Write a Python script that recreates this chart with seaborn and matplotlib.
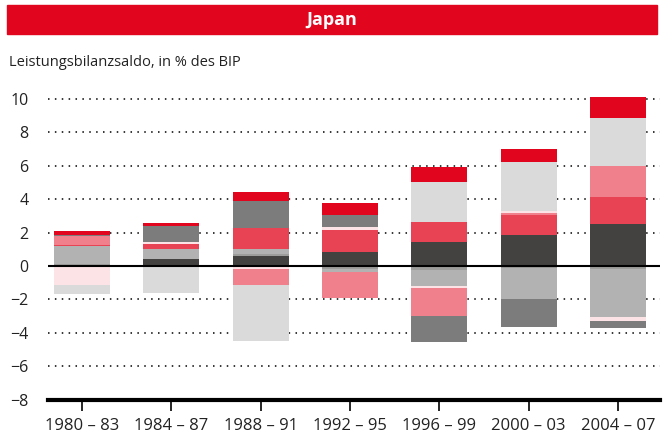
import numpy as np
import pandas as pd
import seaborn as sns
from matplotlib import pyplot as plt
from matplotlib.patches import Rectangle

periods = ["1980 – 83", "1984 – 87", "1988 – 91", "1992 – 95",
           "1996 – 99", "2000 – 03", "2004 – 07"]

# contributions to the current account balance, % of GDP
dark_gray = [0.00, 0.42, 0.62, 0.84, 1.44, 1.86, 2.51]
gray = [0.15, 0.00, 0.10, -0.16, -0.24, -0.10, -0.20]
silver = [1.03, 0.60, 0.30, -0.20, -0.94, -1.86, -2.85]
coral = [0.05, 0.32, 1.24, 1.32, 1.19, 1.19, 1.62]
pink = [0.54, -0.06, -0.96, -1.54, -1.65, 0.10, 1.86]
rose = [-1.12, 0.08, -0.18, 0.18, -0.14, 0.12, -0.22]
light_gray = [-0.54, -1.54, -3.33, 0.00, 2.40, 2.95, 2.87]
mid_gray = [0.06, 0.95, 1.63, 0.72, -1.56, -1.67, -0.44]
red = [0.26, 0.23, 0.54, 0.70, 0.92, 0.78, 1.28]

series = {
    "dark_gray": (dark_gray, "#434241"),
    "gray": (gray, "#9d9d9c"),
    "silver": (silver, "#b2b2b2"),
    "coral": (coral, "#e84355"),
    "pink": (pink, "#f0808b"),
    "rose": (rose, "#fce3e6"),
    "light_gray": (light_gray, "#dadada"),
    "mid_gray": (mid_gray, "#7c7c7c"),
    "red": (red, "#e2051e"),
}
pos_order = ["dark_gray", "gray", "silver", "coral", "pink", "rose",
             "light_gray", "mid_gray", "red"]
neg_order = ["gray", "silver", "rose", "pink", "mid_gray", "light_gray"]

sns.set_style("white")
plt.rcParams["font.family"] = ["Open Sans", "DejaVu Sans"]

fig = plt.figure(figsize=(6.65, 4.41), dpi=100)
ax = fig.add_axes([0.0722, 0.0939, 0.9203, 0.689])

bar_width = 0.63


def draw_layer(values, bottom, color):
    df = pd.DataFrame({"period": periods, "value": values})
    sns.barplot(data=df, x="period", y="value", order=periods, color=color,
                saturation=1, width=bar_width, errorbar=None,
                bottom=bottom, linewidth=0, ax=ax, zorder=3)


pos_base = np.zeros(len(periods))
for name in pos_order:
    vals, color = series[name]
    h = np.clip(np.array(vals), 0, None)
    draw_layer(h, pos_base.copy(), color)
    pos_base += h

neg_base = np.zeros(len(periods))
for name in neg_order:
    vals, color = series[name]
    h = np.clip(np.array(vals), None, 0)
    draw_layer(h, neg_base.copy(), color)
    neg_base += h

for p in ax.patches:
    p.set_clip_on(False)

ax.set_xlim(-0.38, 6.47)
ax.set_ylim(-8, 10.2)
ax.set_yticks(range(-8, 11, 2))
for y in [-6, -4, -2, 2, 4, 6, 8, 10]:
    ax.axhline(y, color="black", lw=1.1, ls=(0, (1, 3.5)), zorder=1)
ax.axhline(0, color="black", lw=1.5, zorder=4)

for s in ["top", "right", "left"]:
    ax.spines[s].set_visible(False)
ax.spines["bottom"].set_linewidth(3)
ax.spines["bottom"].set_color("black")
ax.tick_params(axis="x", bottom=True, length=8, width=1.2, color="black",
               direction="out", labelsize=12, pad=5, labelcolor="#222222")
ax.tick_params(axis="y", left=False, length=0, labelsize=11.5, pad=14,
               labelcolor="#222222")
ax.set_xlabel("")
ax.set_ylabel("")

fig.patches.append(Rectangle((7 / 665, 1 - 34 / 441), 650 / 665, 29 / 441,
                             transform=fig.transFigure, color="#e2051e"))
fig.text(332 / 665, 1 - 20 / 441, "Japan", color="white", fontsize=13,
         fontweight="bold", ha="center", va="center")
fig.text(9 / 665, 1 - 62 / 441, "Leistungsbilanzsaldo, in % des BIP",
         fontsize=10.5, ha="left", va="center", color="#222222")

fig.savefig("out.png", dpi=100)
